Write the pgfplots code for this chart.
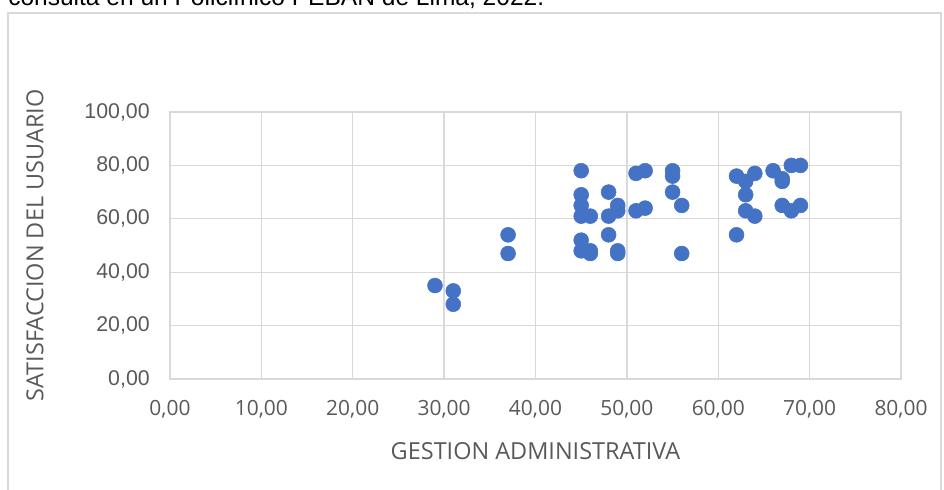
\documentclass[border=0pt]{standalone}
\usepackage{pgfplots}
\pgfplotsset{compat=1.18}
\usepackage{fontspec}
\setmainfont{Liberation Sans}
\newfontfamily\opensans{Open Sans}
\newfontfamily\libsans{Liberation Sans}
\definecolor{ptblue}{HTML}{4472C4}
\definecolor{gridgray}{HTML}{D9D9D9}
\definecolor{txtgray}{HTML}{595959}
\begin{document}
\begin{tikzpicture}
\path[use as bounding box, clip] (0,0) rectangle (708pt,366.75pt);
\node[anchor=base west, inner sep=0pt, font=\libsans\fontsize{18.4}{20}\selectfont] at (6pt,362.5pt) {consulta en un Policlínico PEBAN de Lima, 2022.};
\draw[gridgray, line width=1pt] (6pt,357pt) rectangle (705.75pt,-10pt);
\begin{axis}[
  at={(127.5pt,82.5pt)}, anchor=south west,
  scale only axis, width=548.25pt, height=200.25pt,
  xmin=0, xmax=80, ymin=0, ymax=100,
  xtick={0,10,...,80}, ytick={0,20,...,100},
  xticklabels={{0,00},{10,00},{20,00},{30,00},{40,00},{50,00},{60,00},{70,00},{80,00}},
  yticklabels={{0,00},{20,00},{40,00},{60,00},{80,00},{100,00}},
  xmajorgrids, ymajorgrids,
  grid style={gridgray, line width=1pt},
  axis line style={gridgray, line width=1pt},
  tick style={draw=none},
  xticklabel style={font=\opensans\fontsize{15.7}{18}\selectfont, text=txtgray, anchor=center, inner sep=0pt, yshift=-22.5pt},
  yticklabel style={font=\libsans\fontsize{16}{18}\selectfont, text=txtgray, anchor=east, inner sep=0pt, xshift=-15pt},
  xlabel={GESTION ADMINISTRATIVA},
  ylabel={SATISFACCION DEL USUARIO},
  xlabel style={font=\opensans\fontsize{17.6}{20}\selectfont, text=txtgray, at={(axis description cs:0.5,0)}, anchor=center, inner sep=0pt, yshift=-54pt},
  ylabel style={font=\opensans\fontsize{17.6}{20}\selectfont, text=txtgray, at={(axis description cs:0,0.5)}, anchor=center, inner sep=0pt, rotate=0, yshift=101.25pt},
  clip=false,
]
\addplot[only marks, mark=*, mark size=5.6pt, mark options={fill=ptblue, draw=ptblue}] coordinates {
(29,35) (31,33) (31,28) (37,54) (37,47)
(45,78) (45,69) (45,65) (45,61) (45,52) (45,48)
(46,61) (46,48) (46,47)
(48,70) (48,61) (48,54)
(49,65) (49,63) (49,48) (49,47)
(51,77) (51,63) (52,78) (52,64)
(55,78) (55,76) (55,70) (56,65) (56,47)
(62,76) (62,54) (63,74) (63,69) (63,63) (64,77) (64,61)
(66,78) (67,75) (67,74) (67,65) (68,80) (68,63) (69,80) (69,65)
};
\end{axis}
\end{tikzpicture}
\end{document}
